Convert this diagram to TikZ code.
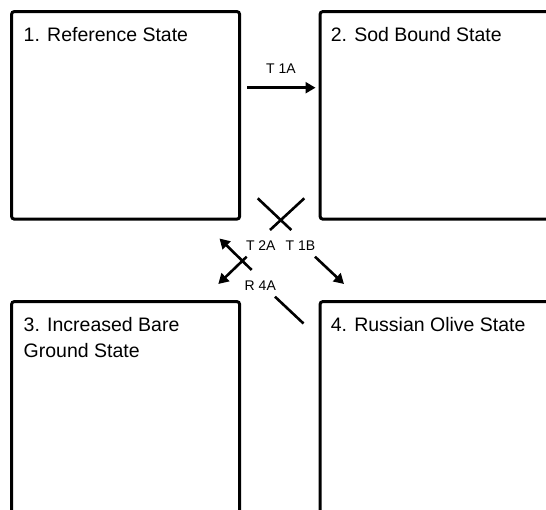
\documentclass[tikz,border=0pt]{standalone}
\usepackage{fontspec}
\setmainfont{Liberation Sans}
\usetikzlibrary{arrows.meta}
\begin{document}
\begin{tikzpicture}[x=1pt,y=-1pt,
  statebox/.style={draw=black,line width=3pt,rounded corners=3pt,outer sep=0pt,inner sep=0pt,anchor=north west},
  title/.style={inner sep=0pt,outer sep=0pt,anchor=base west,align=left,font=\fontsize{19.5}{25.6}\selectfont},
  lab/.style={inner sep=0pt,outer sep=0pt,anchor=base,font=\fontsize{14}{16}\selectfont},
  conn/.style={line width=2.6pt},
  tip/.style={-{Triangle[length=10pt,width=11pt]}}]
\useasboundingbox (0,0) rectangle (546,509);
\clip (0,0) rectangle (546,509);
% state boxes
\node[statebox,minimum width=228.2pt,minimum height=207.7pt] (b1) at (11.5,11.5) {};
\node[statebox,minimum width=300pt,minimum height=207.7pt] (b2) at (320,11.5) {};
\node[statebox,minimum width=228.2pt,minimum height=260pt] (b3) at (11.5,301.5) {};
\node[statebox,minimum width=300pt,minimum height=260pt] (b4) at (320,301.5) {};
% titles
\node[title] (t1) at (23.7,41.7) {1. Reference State};
\node[title] (t2) at (330.8,41.7) {2. Sod Bound State};
\node[title] (t3) at (23.7,357.3) {3. Increased Bare\\Ground State};
\node[title] (t4) at (330.8,331.7) {4. Russian Olive State};
% T 1A
\coordinate (t1a-s) at (247.2,87.7);
\coordinate (t1a-e) at (315.5,87.7);
\draw[line width=3pt,tip] (t1a-s) -- (t1a-e);
\node[lab] (l1a) at (280.9,73.3) {T 1A};
% T 1B (1 -> 4)
\coordinate (t1b-a) at (257.7,198.3);
\coordinate (t1b-b) at (291.3,230);
\coordinate (t1b-c) at (315,256.7);
\coordinate (t1b-d) at (344,284);
\draw[conn] (t1b-a) -- (t1b-b);
\draw[conn,tip] (t1b-c) -- (t1b-d);
\node[lab] (l1b) at (300.5,250) {T 1B};
% T 2A (2 -> 3)
\coordinate (t2a-a) at (304.3,198.3);
\coordinate (t2a-b) at (270,230);
\coordinate (t2a-c) at (246.7,256.7);
\coordinate (t2a-d) at (218.3,284);
\draw[conn] (t2a-a) -- (t2a-b);
\draw[conn,tip] (t2a-c) -- (t2a-d);
\node[lab] (l2a) at (260.8,250) {T 2A};
% R 4A (4 -> 1)
\coordinate (r4a-a) at (303.5,323.5);
\coordinate (r4a-b) at (275,296.7);
\coordinate (r4a-c) at (251.7,270);
\coordinate (r4a-d) at (219.5,238.5);
\draw[conn] (r4a-a) -- (r4a-b);
\draw[conn,tip] (r4a-c) -- (r4a-d);
\node[lab] (l4a) at (260.3,290) {R 4A};
\end{tikzpicture}
\end{document}
